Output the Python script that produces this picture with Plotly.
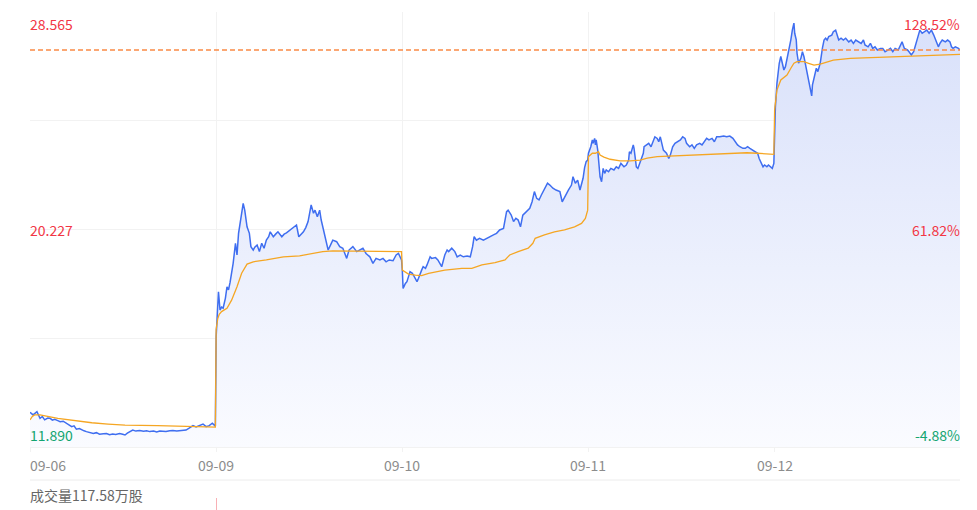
import plotly.graph_objects as go

# intraday data, 5 sessions, (minute of session, price)
dates = ["09-06", "09-09", "09-10", "09-11", "09-12"]
minutes_per_day = 241

d1_price = [(0, 13.22), (4, 13.12), (9, 13.24), (13, 12.99), (16, 13.06), (19, 12.93), (23, 13.00), (26, 12.99),
            (29, 12.92), (32, 12.95), (36, 12.90), (39, 12.86), (43, 12.88), (47, 12.80), (50, 12.76), (54, 12.67),
            (57, 12.70), (60, 12.57), (64, 12.60), (67, 12.54), (70, 12.51), (73, 12.48), (77, 12.45), (82, 12.41),
            (86, 12.44), (90, 12.38), (95, 12.40), (99, 12.41), (103, 12.36), (107, 12.39), (111, 12.37), (116, 12.41),
            (120, 12.38), (123, 12.35), (126, 12.42), (129, 12.48), (133, 12.54), (137, 12.50), (142, 12.52),
            (147, 12.49), (151, 12.51), (155, 12.48), (160, 12.50), (164, 12.47), (168, 12.50), (172, 12.49),
            (176, 12.48), (181, 12.51), (185, 12.52), (190, 12.50), (194, 12.52), (198, 12.53), (202, 12.54),
            (206, 12.61), (211, 12.71), (215, 12.66), (219, 12.71), (224, 12.77), (228, 12.67), (232, 12.71),
            (236, 12.80), (240, 12.69)]
d1_avg = [(0, 12.93), (3, 13.06), (6, 13.12), (13, 13.12), (36, 12.99), (58, 12.90), (80, 12.82), (101, 12.77),
          (123, 12.73), (165, 12.71), (209, 12.67), (240, 12.65)]

d2_price = [(0, 16.12), (1, 16.88), (3, 17.84), (5, 17.14), (7, 17.25), (9, 17.21), (12, 17.60), (14, 18.03),
            (16, 17.91), (18, 18.20), (20, 18.55), (22, 18.93), (25, 19.70), (27, 19.25), (29, 20.08), (31, 20.47),
            (33, 20.72), (35, 21.23), (37, 20.97), (40, 20.33), (43, 20.08), (45, 19.57), (48, 19.44), (50, 19.55),
            (53, 19.63), (56, 19.38), (59, 19.70), (62, 19.51), (65, 19.82), (68, 19.95), (70, 20.14), (74, 19.95),
            (77, 20.05), (80, 20.14), (85, 19.95), (88, 20.05), (91, 20.10), (95, 20.20), (100, 20.33), (104, 20.40),
            (107, 19.95), (110, 20.05), (113, 20.14), (116, 20.30), (119, 20.53), (123, 21.17), (126, 20.85),
            (128, 20.97), (131, 20.72), (134, 20.97), (136, 20.59), (139, 20.21), (143, 19.70), (145, 19.44),
            (148, 19.63), (151, 19.82), (156, 19.76), (160, 19.57), (164, 19.51), (169, 19.12), (172, 19.44),
            (177, 19.57), (182, 19.38), (186, 19.44), (190, 19.51), (194, 19.31), (199, 19.18), (203, 18.93),
            (207, 19.12), (212, 19.06), (216, 19.12), (220, 18.99), (224, 19.06), (229, 19.03), (233, 19.25),
            (236, 19.31), (240, 19.06)]
d2_avg = [(0, 16.40), (2, 16.80), (4, 16.98), (7, 17.08), (14, 17.21), (20, 17.52), (27, 18.03), (33, 18.55),
          (40, 18.90), (48, 18.99), (65, 19.06), (87, 19.18), (108, 19.22), (121, 19.29), (138, 19.38),
          (151, 19.41), (194, 19.40), (240, 19.38)]

d3_price = [(0, 18.67), (1, 17.97), (4, 18.16), (6, 18.23), (8, 18.42), (10, 18.61), (13, 18.55), (15, 18.42),
            (17, 18.36), (19, 18.23), (21, 18.36), (23, 18.55), (25, 18.67), (27, 18.80), (30, 18.74), (32, 18.87),
            (34, 19.06), (36, 19.18), (38, 19.12), (43, 19.15), (46, 19.06), (49, 18.93), (51, 18.80), (55, 19.25),
            (58, 19.44), (60, 19.38), (64, 19.51), (68, 19.38), (71, 19.18), (75, 19.25), (79, 19.18), (84, 19.21),
            (88, 19.18), (91, 19.57), (93, 19.95), (96, 19.82), (100, 19.89), (105, 19.82), (109, 19.89),
            (113, 19.95), (118, 20.02), (122, 20.08), (126, 20.21), (131, 20.27), (135, 20.91), (137, 20.97),
            (141, 20.78), (144, 20.53), (147, 20.66), (150, 20.59), (153, 20.33), (156, 20.78), (160, 20.91),
            (165, 21.04), (168, 21.29), (171, 21.68), (174, 21.42), (177, 21.36), (180, 21.55), (184, 21.81),
            (188, 22.00), (191, 21.93), (195, 21.81), (199, 21.74), (204, 21.68), (207, 21.29), (210, 21.48),
            (215, 21.74), (219, 21.93), (221, 22.25), (224, 22.00), (227, 22.12), (230, 21.74), (232, 22.00),
            (234, 22.19), (236, 22.60), (238, 22.83), (240, 22.89)]
d3_avg = [(0, 18.67), (3, 18.61), (8, 18.52), (17, 18.48), (25, 18.46), (34, 18.55), (43, 18.61), (55, 18.67),
          (77, 18.74), (90, 18.74), (103, 18.87), (120, 18.96), (133, 19.06), (139, 19.25), (150, 19.38),
          (163, 19.51), (169, 19.70), (172, 19.89), (184, 20.02), (197, 20.14), (210, 20.21), (223, 20.33),
          (232, 20.46), (237, 20.65), (240, 20.97)]

d4_price = [(0, 23.15), (3, 23.40), (5, 23.66), (6, 23.53), (8, 23.72), (9, 23.47), (10, 23.66), (12, 23.27),
            (13, 22.89), (15, 22.25), (17, 22.06), (19, 22.57), (21, 22.38), (23, 22.51), (26, 22.44), (29, 22.57),
            (33, 22.51), (36, 22.63), (39, 22.57), (42, 22.76), (46, 22.63), (49, 22.70), (52, 22.89), (53, 23.21),
            (55, 23.15), (58, 23.47), (59, 23.34), (62, 22.63), (64, 22.57), (66, 22.76), (68, 22.95), (71, 23.15),
            (72, 23.40), (75, 23.47), (78, 23.53), (81, 23.40), (83, 23.59), (86, 23.78), (89, 23.72), (91, 23.59),
            (93, 23.78), (95, 23.47), (97, 23.27), (101, 23.15), (104, 22.95), (106, 23.08), (109, 23.40),
            (112, 23.53), (115, 23.59), (119, 23.66), (122, 23.78), (125, 23.72), (127, 23.53), (131, 23.40),
            (134, 23.47), (137, 23.34), (140, 23.47), (144, 23.53), (147, 23.47), (150, 23.59), (153, 23.72),
            (156, 23.66), (160, 23.72), (163, 23.59), (166, 23.78), (170, 23.78), (175, 23.81), (179, 23.78),
            (183, 23.81), (187, 23.72), (190, 23.59), (193, 23.47), (196, 23.40), (200, 23.34), (203, 23.34),
            (206, 23.40), (209, 23.34), (213, 23.27), (216, 23.21), (219, 23.15), (221, 22.95), (224, 22.76),
            (226, 22.63), (228, 22.70), (231, 22.63), (233, 22.70), (236, 22.63), (238, 22.57), (240, 22.76)]
d4_avg = [(0, 23.02), (5, 23.15), (9, 23.15), (13, 23.21), (15, 23.08), (20, 23.00), (28, 22.92), (41, 22.86),
          (54, 22.86), (67, 22.89), (76, 22.96), (89, 23.02), (102, 23.04), (119, 23.06), (140, 23.08),
          (162, 23.11), (183, 23.15), (205, 23.17), (218, 23.15), (231, 23.11), (240, 23.11)]

d5_price = [(0, 24.81), (1, 24.92), (3, 25.83), (6, 26.60), (8, 26.86), (10, 26.60), (12, 26.34), (14, 26.47),
            (16, 26.73), (18, 26.99), (21, 27.50), (23, 27.88), (25, 28.14), (26, 27.75), (28, 27.50), (29, 26.99),
            (31, 26.60), (34, 26.79), (36, 27.04), (38, 26.85), (40, 26.53), (42, 26.34), (44, 25.96), (46, 25.58),
            (48, 25.35), (49, 25.77), (52, 26.22), (54, 26.41), (56, 26.28), (59, 26.60), (62, 27.20), (64, 27.49),
            (66, 27.56), (68, 27.49), (70, 27.62), (74, 27.68), (76, 27.81), (79, 27.87), (81, 27.68), (83, 27.49),
            (86, 27.56), (89, 27.49), (92, 27.56), (96, 27.42), (99, 27.49), (102, 27.36), (105, 27.49),
            (109, 27.42), (112, 27.36), (115, 27.49), (117, 27.30), (121, 27.23), (124, 27.36), (127, 27.17),
            (130, 27.23), (133, 27.11), (137, 27.17), (140, 27.17), (143, 27.04), (147, 27.11), (150, 27.17),
            (153, 27.04), (156, 27.17), (160, 27.11), (163, 27.30), (165, 27.42), (168, 27.17), (172, 27.11),
            (174, 27.04), (177, 26.92), (180, 27.04), (183, 27.36), (186, 27.68), (188, 27.87), (191, 27.75),
            (194, 27.81), (197, 27.87), (200, 27.75), (203, 27.87), (206, 27.68), (209, 27.42), (212, 27.23),
            (214, 27.36), (217, 27.49), (221, 27.42), (224, 27.49), (227, 27.42), (229, 27.23), (231, 27.17),
            (234, 27.23), (238, 27.17), (240, 27.11)]
d5_avg = [(0, 24.81), (3, 25.57), (8, 25.96), (12, 26.06), (16, 26.15), (21, 26.41), (25, 26.60), (29, 26.66),
          (38, 26.66), (44, 26.60), (51, 26.53), (59, 26.57), (76, 26.72), (98, 26.79), (141, 26.83),
          (184, 26.88), (227, 26.92), (240, 26.94)]

# visible volume bar (09-09 open)
vol_day = [1]
vol_minute = [0]
vol_value = [1.0]

y_min, y_max = 11.890, 28.565
left_labels = ["28.565", "20.227", "11.890"]
right_labels = ["128.52%", "61.82%", "-4.88%"]
label_values = [28.565, 20.227, 11.890]
volume_text = "成交量117.58万股"

blue = "#3f6ef0"
orange = "#f5a623"
red = "#f23645"
green = "#13a571"
grid = "#f2f2f2"
FONT = "Noto Sans CJK SC"


def flatten(days):
    xs, ys = [], []
    for d, pts in enumerate(days):
        for m, v in pts:
            xs.append(d * minutes_per_day + m)
            ys.append(v)
    return xs, ys


px_x, px_y = flatten([d1_price, d2_price, d3_price, d4_price, d5_price])
av_x, av_y = flatten([d1_avg, d2_avg, d3_avg, d4_avg, d5_avg])
last_price = px_y[-1]
x_end = len(dates) * minutes_per_day - 1

fig = go.Figure()

fig.add_trace(go.Scatter(
    x=px_x, y=px_y, mode="lines",
    line=dict(color=blue, width=1.5),
    fill="tozeroy",
    fillgradient=dict(type="vertical", start=y_min, stop=y_max,
                      colorscale=[[0, "rgba(250,251,255,1)"], [1, "rgba(216,224,250,1)"]]),
    hoverinfo="skip", showlegend=False,
))
fig.add_trace(go.Scatter(
    x=av_x, y=av_y, mode="lines",
    line=dict(color=orange, width=1.3),
    hoverinfo="skip", showlegend=False,
))
fig.add_trace(go.Bar(
    x=[d * minutes_per_day + m for d, m in zip(vol_day, vol_minute)], y=vol_value,
    xaxis="x2", yaxis="y2", width=1.5,
    marker=dict(color="rgba(240,80,90,0.45)", line=dict(width=0)),
    hoverinfo="skip", showlegend=False,
))

# last price dashed line
fig.add_shape(type="line", xref="x", yref="y", x0=0, x1=x_end, y0=last_price, y1=last_price,
              line=dict(color="#fa8a45", width=1.5, dash="5px,3px"))
# volume panel separator
fig.add_shape(type="line", xref="paper", yref="paper", x0=0, x1=1, y0=0.0602, y1=0.0602,
              line=dict(color="#ececec", width=1))

annotations = []
for i, (lt, rt, v) in enumerate(zip(left_labels, right_labels, label_values)):
    col = red if i < 2 else green
    anchor = ["top", "middle", "bottom"][i]
    annotations.append(dict(x=0, xref="paper", y=v, yref="y", text=lt, showarrow=False,
                            xanchor="left", yanchor=anchor, xshift=-2,
                            font=dict(color=col, size=14, family=FONT)))
    annotations.append(dict(x=1, xref="paper", y=v, yref="y", text=rt, showarrow=False,
                            xanchor="right", yanchor=anchor, xshift=2,
                            font=dict(color=col, size=14, family=FONT)))
for d, lab in enumerate(dates):
    annotations.append(dict(x=d * minutes_per_day, xref="x", y=0.0904, yref="paper", text=lab,
                            showarrow=False, xanchor="left" if d == 0 else "center", yanchor="middle",
                            xshift=-2 if d == 0 else 0,
                            font=dict(color="#8c8c8c", size=14, family=FONT)))
annotations.append(dict(x=0, xref="paper", y=0.0301, yref="paper", text=volume_text, showarrow=False,
                        xanchor="left", yanchor="middle", xshift=-2,
                        font=dict(color="#666666", size=14, family=FONT)))

grid_vals = [y_min + (y_max - y_min) * k / 4 for k in range(5)]

fig.update_layout(
    width=977, height=510,
    margin=dict(l=30, r=17, t=12, b=0),
    plot_bgcolor="white", paper_bgcolor="white",
    font=dict(family=FONT),
    showlegend=False,
    annotations=annotations,
    bargap=0,
    xaxis=dict(range=[0, x_end], domain=[0, 1], anchor="y",
               tickvals=[d * minutes_per_day for d in range(len(dates))],
               showticklabels=False, showgrid=True, gridcolor=grid, gridwidth=1,
               zeroline=False, showline=True, linecolor=grid,
               ticks="outside", ticklen=4, tickcolor=grid),
    yaxis=dict(range=[y_min, y_max], domain=[0.1265, 1], tickvals=grid_vals,
               showticklabels=False, showgrid=True, gridcolor=grid, gridwidth=1,
               zeroline=False, showline=False),
    xaxis2=dict(matches="x", anchor="y2", showgrid=False, showticklabels=False, zeroline=False),
    yaxis2=dict(range=[0, 1], domain=[0, 0.0241], showgrid=False, showticklabels=False, zeroline=False),
)

# page body has a default 8px margin; drop it so the figure sits at the window's corner
fig.write_html("out.html", config={"displayModeBar": False},
               post_script="document.body.style.margin='0';document.body.style.overflow='hidden';")
